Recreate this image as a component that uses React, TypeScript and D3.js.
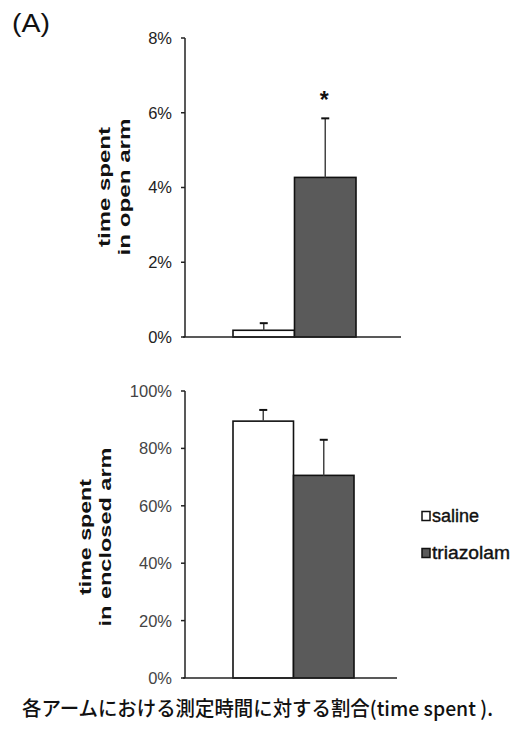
import React from "react";
import * as d3 from "d3";

// ---- data ----
const groups = ["saline", "triazolam"];
const openArmMean = [0.18, 4.27];
const openArmErr = [0.19, 1.58];
const enclosedArmMean = [89.5, 70.6];
const enclosedArmErr = [3.9, 12.4];
const openTicks = [0, 2, 4, 6, 8];
const enclosedTicks = [0, 20, 40, 60, 80, 100];
const fills = ["#ffffff", "#5a5a5a"];
const panelLabel = "(A)";
const caption = "各アームにおける測定時間に対する割合(time spent ).";

const W = 511;
const H = 729;
const SANS = "'Liberation Sans', Arial, sans-serif";

type PanelProps = {
  top: number;
  height: number;
  axisX: number;
  axisEnd: number;
  barRange: [number, number];
  max: number;
  ticks: number[];
  means: number[];
  errs: number[];
  title: [string, string];
  titleLens: [number, number];
  titleX: [number, number];
  titleCenter: number;
  tickColor: string;
  star?: boolean;
};

function Panel(p: PanelProps) {
  const y = d3.scaleLinear().domain([0, p.max]).range([p.top + p.height, p.top]);
  const x = d3.scaleBand<string>().domain(groups).range(p.barRange).paddingInner(0).paddingOuter(0);
  const base = y(0);
  return (
    <g>
      {groups.map((g, i) => (
        <rect
          key={g}
          x={x(g)!}
          y={y(p.means[i])}
          width={x.bandwidth()}
          height={base - y(p.means[i])}
          fill={fills[i]}
          stroke="#111"
          strokeWidth={1.6}
        />
      ))}
      {groups.map((g, i) => {
        const cx = x(g)! + x.bandwidth() / 2;
        const yt = y(p.means[i] + p.errs[i]);
        return (
          <g key={"e" + g}>
            <line x1={cx} x2={cx} y1={y(p.means[i])} y2={yt} stroke="#444" strokeWidth={1.5} />
            <line x1={cx - 4} x2={cx + 4} y1={yt} y2={yt} stroke="#111" strokeWidth={2} />
          </g>
        );
      })}
      {p.star && (
        <text
          x={x("triazolam")! + x.bandwidth() / 2 - 1}
          y={y(openArmMean[1] + openArmErr[1]) - 10}
          textAnchor="middle"
          fontFamily={SANS}
          fontWeight="bold"
          fontSize={23}
          fill="#111"
        >
          *
        </text>
      )}
      <line x1={p.axisX} x2={p.axisX} y1={p.top} y2={base} stroke="#222" strokeWidth={1.5} />
      {p.ticks.map((t) => (
        <g key={t}>
          <line x1={p.axisX - 4} x2={p.axisX} y1={y(t)} y2={y(t)} stroke="#222" strokeWidth={1.5} />
          <text
            x={p.axisX - 13}
            y={y(t)}
            dy="0.36em"
            textAnchor="end"
            fontFamily={SANS}
            fontSize={16.5}
            fill={p.tickColor}
          >
            {t}%
          </text>
        </g>
      ))}
      <line x1={p.axisX - 2} x2={p.axisEnd} y1={base} y2={base} stroke="#222" strokeWidth={1.6} />
      {p.title.map((s, i) => (
        <text
          key={s}
          transform={`translate(${p.titleX[i]},${p.titleCenter}) rotate(-90)`}
          textAnchor="middle"
          fontFamily={SANS}
          fontWeight="bold"
          fontSize={17}
          fill="#111"
          textLength={p.titleLens[i]}
          lengthAdjust="spacingAndGlyphs"
        >
          {s}
        </text>
      ))}
    </g>
  );
}

export default function App() {
  return (
    <svg
      width={W}
      height={H}
      viewBox={`0 0 ${W} ${H}`}
      style={{ position: "absolute", left: 0, top: 0, background: "#fff" }}
    >
      <rect width={W} height={H} fill="#fff" />
      <text
        x={12}
        y={32}
        fontFamily={SANS}
        fontSize={25}
        fill="#111"
        textLength={38}
        lengthAdjust="spacingAndGlyphs"
      >
        {panelLabel}
      </text>
      <Panel
        top={38}
        height={299}
        axisX={185}
        axisEnd={401}
        barRange={[233, 356]}
        max={8}
        ticks={openTicks}
        means={openArmMean}
        errs={openArmErr}
        title={["time spent", "in open arm"]}
        titleLens={[120, 137]}
        titleX={[110, 130]}
        titleCenter={187}
        tickColor="#222"
        star
      />
      <Panel
        top={391}
        height={287}
        axisX={185}
        axisEnd={397}
        barRange={[233, 354]}
        max={100}
        ticks={enclosedTicks}
        means={enclosedArmMean}
        errs={enclosedArmErr}
        title={["time spent", "in enclosed arm"]}
        titleLens={[116, 179]}
        titleX={[91, 111]}
        titleCenter={537}
        tickColor="#444"
      />
      {groups.map((g, i) => (
        <g key={g}>
          <rect
            x={422}
            y={[516, 553][i] - 4.5}
            width={8}
            height={9}
            fill={fills[i]}
            stroke="#111"
            strokeWidth={1.5}
          />
          <text
            x={432}
            y={[516, 553][i]}
            dy="0.36em"
            fontFamily={SANS}
            fontSize={18}
            fill="#111"
            stroke="#111"
            strokeWidth={0.4}
            textLength={[47, 78][i]}
            lengthAdjust="spacingAndGlyphs"
          >
            {g}
          </text>
        </g>
      ))}
      <text
        x={22}
        y={716}
        fontFamily="'Noto Sans CJK JP', sans-serif"
        fontWeight={500}
        fontSize={20}
        fill="#111"
        textLength={471}
        lengthAdjust="spacingAndGlyphs"
      >
        {caption}
      </text>
    </svg>
  );
}
